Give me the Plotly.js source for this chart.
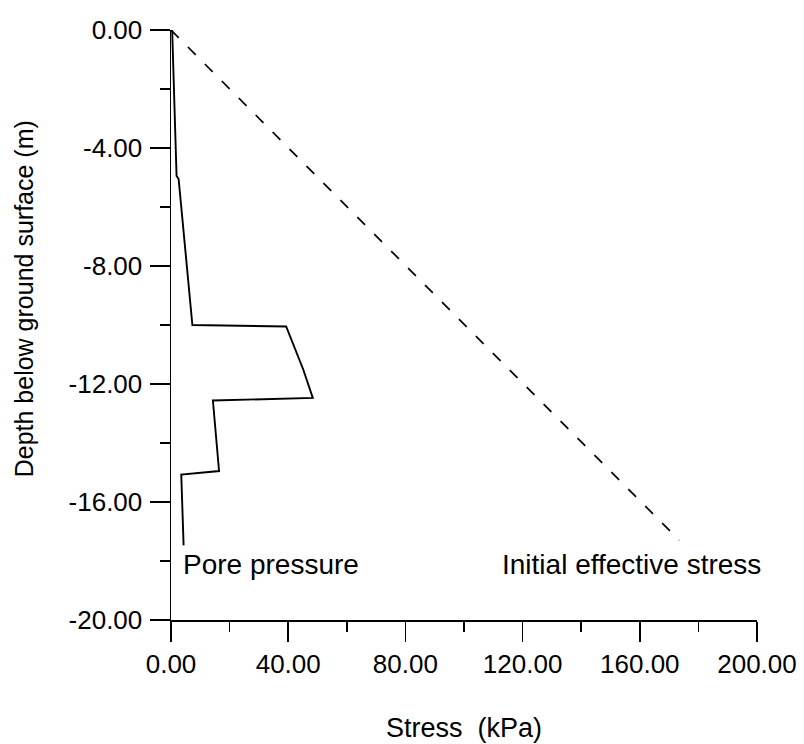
<!DOCTYPE html>
<html>
<head>
<meta charset="utf-8">
<script src="https://cdn.plot.ly/plotly-3.0.1.min.js"></script>
<style>
html, body { margin: 0; padding: 0; background: #ffffff; }
#chart { width: 804px; height: 744px; }
</style>
</head>
<body>
<div id="chart"></div>
<script>
// ---- data ----
const porePressureKPa   = [0.4, 1.9, 2.6, 7.3, 39.3, 42.2, 45.1, 48.4, 14.3, 16.4, 3.5, 4.3];
const porePressureDepth = [0, -4.95, -5.05, -10.0, -10.05, -10.75, -11.5, -12.47, -12.56, -14.95, -15.07, -17.47];

const effStressKPa   = [0, 173.5];
const effStressDepth = [0, -17.3];

const xTickVals   = [0, 40, 80, 120, 160, 200];
const xTickLabels = ['0.00', '40.00', '80.00', '120.00', '160.00', '200.00'];
const xMinorTickVals = [20, 60, 100, 140, 180];

const yTickVals   = [0, -4, -8, -12, -16, -20];
const yTickLabels = ['0.00', '-4.00', '-8.00', '-12.00', '-16.00', '-20.00'];
const yMinorTickVals = [-2, -6, -10, -14, -18];

const poreLabel = 'Pore pressure';
const effLabel  = 'Initial effective stress';
const xTitle = 'Stress \u00a0(kPa)';
const yTitle = 'Depth below ground surface (m)';

// ---- chart ----
const FONT = 'Liberation Sans, Arial, Helvetica, sans-serif';

const traces = [
  {
    type: 'scatter', mode: 'lines', name: poreLabel,
    x: porePressureKPa, y: porePressureDepth,
    line: { color: '#000000', width: 1.9 },
    hoverinfo: 'skip'
  },
  {
    type: 'scatter', mode: 'lines', name: effLabel,
    x: effStressKPa, y: effStressDepth,
    line: { color: '#000000', width: 1.7, dash: '11px,13px' },
    hoverinfo: 'skip'
  }
];

const axisCommon = {
  ticks: 'outside', ticklen: 20, tickwidth: 1.5, tickcolor: '#000000',
  showline: true, linecolor: '#000000', linewidth: 1.5,
  showgrid: false, zeroline: false,
  tickfont: { family: FONT, size: 26, color: '#000000' },
  fixedrange: true
};

const layout = {
  width: 804, height: 744,
  margin: { l: 171, r: 47, t: 30, b: 124 },
  paper_bgcolor: '#ffffff', plot_bgcolor: '#ffffff',
  showlegend: false,
  font: { family: FONT, size: 26, color: '#000000' },
  xaxis: Object.assign({}, axisCommon, {
    range: [0, 200],
    tickmode: 'array', tickvals: xTickVals, ticktext: xTickLabels,
    minor: { tickmode: 'array', tickvals: xMinorTickVals, ticks: 'outside', ticklen: 10, tickwidth: 1.5, tickcolor: '#000000', showgrid: false },
    title: { text: xTitle, font: { family: FONT, size: 27, color: '#000000' }, standoff: 40 }
  }),
  yaxis: Object.assign({}, axisCommon, {
    range: [-20, 0],
    tickmode: 'array', tickvals: yTickVals, ticktext: yTickLabels,
    ticklabelstandoff: 2,
    minor: { tickmode: 'array', tickvals: yMinorTickVals, ticks: 'outside', ticklen: 10, tickwidth: 1.5, tickcolor: '#000000', showgrid: false }
  }),
  annotations: [
    { text: yTitle, textangle: -90, x: -0.2502, y: 0.5442, xref: 'paper', yref: 'paper',
      xanchor: 'center', yanchor: 'middle', showarrow: false,
      font: { family: FONT, size: 25, color: '#000000' } },
    { text: poreLabel, x: 3.5, y: -18.13, xref: 'x', yref: 'y', xanchor: 'left', yanchor: 'middle',
      showarrow: false, font: { family: FONT, size: 28, color: '#000000' } },
    { text: effLabel, x: 112.4, y: -18.13, xref: 'x', yref: 'y', xanchor: 'left', yanchor: 'middle',
      showarrow: false, font: { family: FONT, size: 28, color: '#000000' } }
  ]
};

Plotly.newPlot('chart', traces, layout, { displayModeBar: false, staticPlot: true, responsive: false });
</script>
</body>
</html>
